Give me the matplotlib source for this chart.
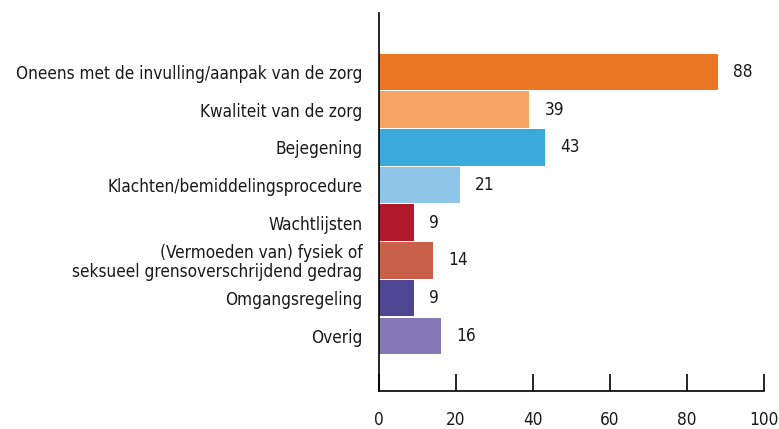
import matplotlib.pyplot as plt

categories = [
    'Oneens met de invulling/aanpak van de zorg',
    'Kwaliteit van de zorg',
    'Bejegening',
    'Klachten/bemiddelingsprocedure',
    'Wachtlijsten',
    '(Vermoeden van) fysiek of\nseksueel grensoverschrijdend gedrag',
    'Omgangsregeling',
    'Overig',
]
values = [88, 39, 43, 21, 9, 14, 9, 16]
colors = ['#EC7722', '#F5A462', '#3AAADC', '#8EC5E8',
          '#B2182B', '#C9604A', '#4E4693', '#8479B5']
xticks = [0, 20, 40, 60, 80, 100]

plt.rcParams['font.family'] = 'DejaVu Sans'
plt.rcParams['font.stretch'] = 'condensed'
txt = '#1a1a1a'

fig = plt.figure(figsize=(7.79, 4.29), dpi=100)
ax = fig.add_axes([379 / 779, 1 - 391 / 429, 385 / 779, 378 / 429])

pos = list(range(len(categories)))
ax.barh(pos, values, height=0.97, color=colors)
for p, v in zip(pos, values):
    ax.annotate(str(v), (v, p), xytext=(11, 0), textcoords='offset points',
                ha='left', va='center', fontsize=12.3, color=txt)

ax.set_xlim(0, 100)
ax.set_ylim(7 + 1.46, -1.56)
ax.set_yticks(pos)
ax.set_yticklabels(categories, fontsize=12.3, color=txt, ha='right',
                   multialignment='right', linespacing=1.05)
ax.set_xticks(xticks)
ax.set_xticklabels([str(t) for t in xticks], fontsize=12.3, color=txt)
ax.tick_params(axis='y', length=0, pad=12)
ax.tick_params(axis='x', direction='in', length=12, width=1.2, pad=14.5)
for s in ['top', 'right']:
    ax.spines[s].set_visible(False)
for s in ['left', 'bottom']:
    ax.spines[s].set_linewidth(1.2)

fig.savefig('out.png', dpi=100)
